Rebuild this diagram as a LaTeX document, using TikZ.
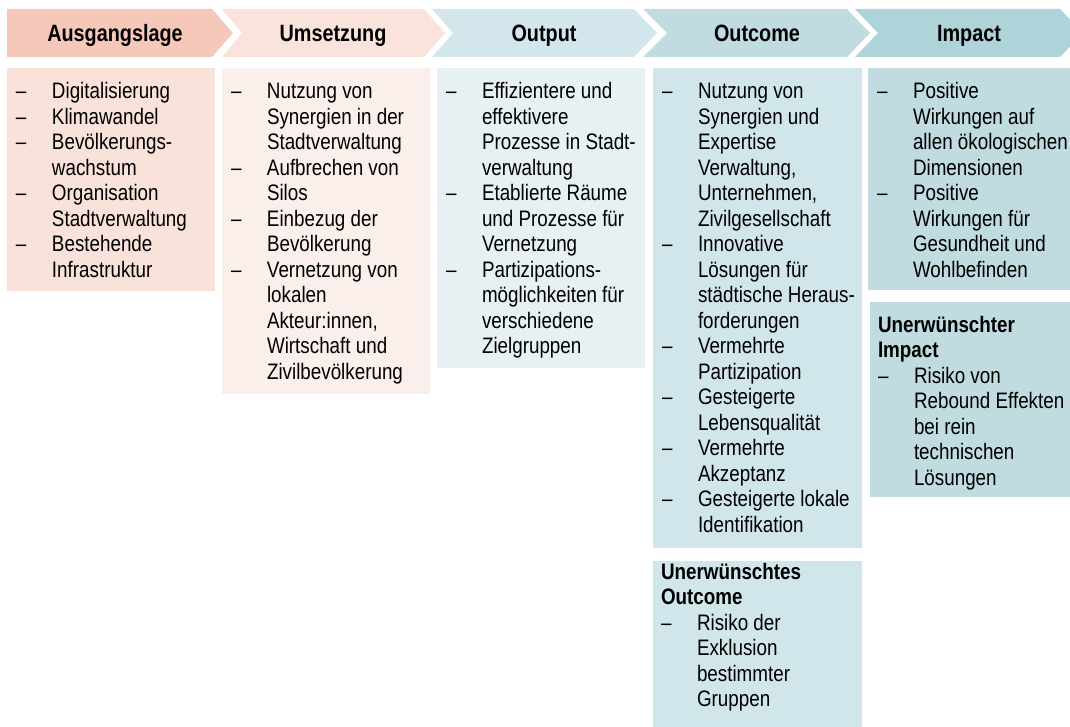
\documentclass[tikz,border=0pt]{standalone}
\usepackage{fontspec}
\setmainfont{Liberation Sans}[FakeStretch=0.84]
\usetikzlibrary{calc}
\definecolor{chA}{HTML}{F5C8B9}
\definecolor{bxA}{HTML}{F9E2D9}
\definecolor{chB}{HTML}{FAE3DA}
\definecolor{bxB}{HTML}{FBEFEB}
\definecolor{chC}{HTML}{D2E6EB}
\definecolor{bxC}{HTML}{E7F1F3}
\definecolor{chD}{HTML}{C0DCE1}
\definecolor{bxD}{HTML}{D1E6EA}
\definecolor{chE}{HTML}{AED3D8}
\definecolor{bxE}{HTML}{C0DCE0}
\newcommand\itm[1]{\par\hangindent=36pt\hangafter=1\noindent\makebox[36pt][l]{–}#1}
\newcommand\colbody[1]{\parbox[t]{320pt}{\fontsize{22.4}{25.5}\selectfont\parskip=0pt\parindent=0pt\noindent #1}}
\begin{document}
\begin{tikzpicture}[x=1pt,y=-1pt,
  hdr/.style={anchor=base,inner sep=0pt,font=\fontsize{23.6}{28}\selectfont\bfseries},
  panel/.style={anchor=north west,inner sep=0pt,outer sep=0pt,draw=none},
  body/.style={anchor=base west,inner sep=0pt,outer sep=0pt}]
\useasboundingbox (0,0) rectangle (1070,727);
% chevrons
\fill[chA] (7,9) -- (212,9) -- (233,33) -- (212,57) -- (7,57) -- cycle;
\fill[chB] (222,9) -- (424,9) -- (445,33) -- (424,57) -- (222,57) -- (242,33) -- cycle;
\fill[chC] (432,9) -- (634,9) -- (657,33) -- (634,57) -- (432,57) -- (453,33) -- cycle;
\fill[chD] (643,9) -- (847,9) -- (870,33) -- (847,57) -- (643,57) -- (667,33) -- cycle;
\fill[chE] (855,9) -- (1060,9) -- (1083,33) -- (1060,57) -- (855,57) -- (878,33) -- cycle;
\node[hdr] (h1) at (115,41.5) {Ausgangslage};
\node[hdr] (h2) at (333,41.5) {Umsetzung};
\node[hdr] (h3) at (544,41.5) {Output};
\node[hdr] (h4) at (757,41.5) {Outcome};
\node[hdr] (h5) at (969,41.5) {Impact};
% panels
\node[panel,fill=bxA,minimum width=208pt,minimum height=223pt] (b1) at (7,68) {};
\node[panel,fill=bxB,minimum width=208pt,minimum height=326pt] (b2) at (222,68) {};
\node[panel,fill=bxC,minimum width=208pt,minimum height=300pt] (b3) at (437,68) {};
\node[panel,fill=bxD,minimum width=209pt,minimum height=480pt] (b4) at (653,68) {};
\node[panel,fill=bxD,minimum width=209pt,minimum height=170pt] (b4b) at (653,561) {};
\node[panel,fill=bxE,minimum width=210pt,minimum height=222pt] (b5) at (868,68) {};
\node[panel,fill=bxE,minimum width=208pt,minimum height=195pt] (b5b) at (870,302) {};
% texts
\node[body] (t1) at ($(b1.north west)+(9,31)$) {\colbody{%
\itm{Digitalisierung}
\itm{Klimawandel}
\itm{Bevölkerungs-\\wachstum}
\itm{Organisation\\Stadtverwaltung}
\itm{Bestehende\\Infrastruktur}}};
\node[body] (t2) at ($(b2.north west)+(9,31)$) {\colbody{%
\itm{Nutzung von\\Synergien in der\\Stadtverwaltung}
\itm{Aufbrechen von\\Silos}
\itm{Einbezug der\\Bevölkerung}
\itm{Vernetzung von\\lokalen\\Akteur:innen,\\Wirtschaft und\\Zivilbevölkerung}}};
\node[body] (t3) at ($(b3.north west)+(9,31)$) {\colbody{%
\itm{Effizientere und\\effektivere\\Prozesse in Stadt-\\verwaltung}
\itm{Etablierte Räume\\und Prozesse für\\Vernetzung}
\itm{Partizipations-\\möglichkeiten für\\verschiedene\\Zielgruppen}}};
\node[body] (t4) at ($(b4.north west)+(9,31)$) {\colbody{%
\itm{Nutzung von\\Synergien und\\Expertise\\Verwaltung,\\Unternehmen,\\Zivilgesellschaft}
\itm{Innovative\\Lösungen für\\städtische Heraus-\\forderungen}
\itm{Vermehrte\\Partizipation}
\itm{Gesteigerte\\Lebensqualität}
\itm{Vermehrte\\Akzeptanz}
\itm{Gesteigerte lokale\\Identifikation}}};
\node[body] (t4b) at ($(b4b.north west)+(8,18)$) {\colbody{%
\textbf{Unerwünschtes}\\\textbf{Outcome}
\itm{Risiko der\\Exklusion\\bestimmter\\Gruppen}}};
\node[body] (t5) at ($(b5.north west)+(9,31)$) {\colbody{%
\itm{Positive\\Wirkungen auf\\allen ökologischen\\Dimensionen}
\itm{Positive\\Wirkungen für\\Gesundheit und\\Wohlbefinden}}};
\node[body] (t5b) at ($(b5b.north west)+(8,30)$) {\colbody{%
\textbf{Unerwünschter}\\\textbf{Impact}
\itm{Risiko von\\Rebound Effekten\\bei rein\\technischen\\Lösungen}}};
\end{tikzpicture}
\end{document}
